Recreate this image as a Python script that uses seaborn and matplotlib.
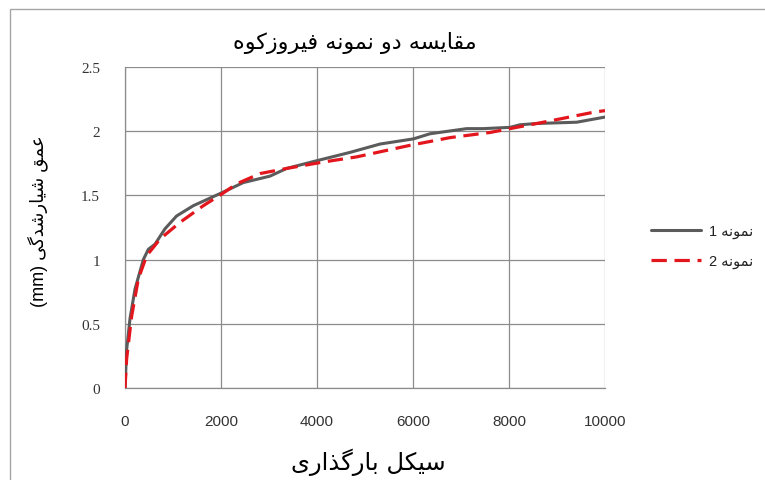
import matplotlib
matplotlib.use("Agg")
import matplotlib.pyplot as plt
import seaborn as sns
import pandas as pd
from matplotlib.patches import Rectangle

# ---- data ---------------------------------------------------------------
cycles_1 = [0, 35, 104, 208, 382, 486, 625, 833, 1076, 1424, 2014, 2465, 3020,
            3368, 3993, 4688, 5313, 6007, 6354, 7118, 7465, 8021, 8229, 8576,
            9410, 10000]
depth_1 = [0, 0.30, 0.54, 0.77, 1.00, 1.08, 1.12, 1.24, 1.34, 1.42, 1.52, 1.60,
           1.65, 1.71, 1.77, 1.835, 1.90, 1.94, 1.98, 2.02, 2.02, 2.03, 2.05,
           2.06, 2.07, 2.11]

cycles_2 = [0, 35, 139, 278, 451, 729, 1146, 1632, 2014, 2326, 2813, 3368, 4132,
            4826, 5938, 6771, 7604, 8021, 8854, 9792, 10000]
depth_2 = [0, 0.23, 0.56, 0.85, 1.03, 1.16, 1.29, 1.42, 1.51, 1.59, 1.67, 1.71,
           1.76, 1.80, 1.89, 1.95, 1.99, 2.02, 2.08, 2.15, 2.16]

x_ticks = [0, 2000, 4000, 6000, 8000, 10000]
y_ticks = [0, 0.5, 1, 1.5, 2, 2.5]
y_tick_labels = ["0", "0.5", "1", "1.5", "2", "2.5"]

title_text = "مقایسه دو نمونه فیروزکوه"
x_label_text = "سیکل بارگذاری"
y_label_text = "عمق شیارشدگی"
y_unit = "(mm)"
series_word = "نمونه"
series_numbers = ["1", "2"]

# ---- minimal Persian shaping (contextual forms + right-to-left order) ----
# letter: (isolated, final, initial, medial); right-joining letters have no
# initial/medial forms.
FORMS = {
    "ا": ("\uFE8D", "\uFE8E", None, None),
    "ب": ("\uFE8F", "\uFE90", "\uFE91", "\uFE92"),
    "د": ("\uFEA9", "\uFEAA", None, None),
    "ذ": ("\uFEAB", "\uFEAC", None, None),
    "ر": ("\uFEAD", "\uFEAE", None, None),
    "ز": ("\uFEAF", "\uFEB0", None, None),
    "س": ("\uFEB1", "\uFEB2", "\uFEB3", "\uFEB4"),
    "ش": ("\uFEB5", "\uFEB6", "\uFEB7", "\uFEB8"),
    "ع": ("\uFEC9", "\uFECA", "\uFECB", "\uFECC"),
    "ف": ("\uFED1", "\uFED2", "\uFED3", "\uFED4"),
    "ق": ("\uFED5", "\uFED6", "\uFED7", "\uFED8"),
    "ل": ("\uFEDD", "\uFEDE", "\uFEDF", "\uFEE0"),
    "م": ("\uFEE1", "\uFEE2", "\uFEE3", "\uFEE4"),
    "ن": ("\uFEE5", "\uFEE6", "\uFEE7", "\uFEE8"),
    "ه": ("\uFEE9", "\uFEEA", "\uFEEB", "\uFEEC"),
    "و": ("\uFEED", "\uFEEE", None, None),
    "ی": ("\uFBFC", "\uFBFD", "\uFBFE", "\uFBFF"),
    "ک": ("\uFB8E", "\uFB8F", "\uFB90", "\uFB91"),
    "گ": ("\uFB92", "\uFB93", "\uFB94", "\uFB95"),
}


def shape(text):
    out = []
    n = len(text)
    for i, ch in enumerate(text):
        if ch not in FORMS:
            out.append(ch)
            continue
        prev = text[i - 1] if i > 0 else ""
        nxt = text[i + 1] if i < n - 1 else ""
        joins_prev = prev in FORMS and FORMS[prev][2] is not None
        joins_next = FORMS[ch][2] is not None and nxt in FORMS
        iso, fin, ini, med = FORMS[ch]
        if joins_prev and joins_next:
            out.append(med)
        elif joins_prev:
            out.append(fin)
        elif joins_next:
            out.append(ini)
        else:
            out.append(iso)
    return "".join(out)[::-1]


# ---- figure ---------------------------------------------------------------
sns.set_theme(style="white")
plt.rcParams["font.family"] = ["Liberation Sans", "DejaVu Sans"]

W, H = 765, 481
fig = plt.figure(figsize=(W / 100, H / 100), dpi=100)
fig.patch.set_facecolor("white")

# chart-area frame
fig.add_artist(Rectangle((10 / W, -0.05), 1.1, 1 - 10 / H + 0.05,
                         transform=fig.transFigure, fill=False,
                         edgecolor="#a6a6a6", linewidth=1.0))

ax = fig.add_axes([125 / W, 1 - 389 / H, (605 - 125) / W, (389 - 68) / H])
ax.set_facecolor("white")

df1 = pd.DataFrame({"cycle": cycles_1, "depth": depth_1})
df2 = pd.DataFrame({"cycle": cycles_2, "depth": depth_2})

label_1 = series_numbers[0] + " " + shape(series_word)
label_2 = series_numbers[1] + " " + shape(series_word)

sns.lineplot(data=df1, x="cycle", y="depth", ax=ax, color="#5b5b5b",
             linewidth=2.2, label=label_1, sort=False, zorder=3)
sns.lineplot(data=df2, x="cycle", y="depth", ax=ax, color="#e3161d",
             linewidth=2.3, linestyle=(0, (4.8, 2.4)), label=label_2,
             sort=False, zorder=4)

ax.set_xlim(0, 10000)
ax.set_ylim(0, 2.5)
ax.set_xticks(x_ticks)
ax.set_xticklabels([str(t) for t in x_ticks])
ax.set_yticks(y_ticks)
ax.set_yticklabels(y_tick_labels, family=["Liberation Serif", "DejaVu Serif"],
                   fontsize=12)

ax.grid(True, color="#8c8c8c", linewidth=0.9)
ax.set_axisbelow(True)
for side in ("top", "right"):
    ax.spines[side].set_visible(False)
for side in ("left", "bottom"):
    ax.spines[side].set_color("#8c8c8c")
    ax.spines[side].set_linewidth(0.9)
ax.tick_params(axis="both", which="major", direction="out", length=6,
               width=0.9, color="#8c8c8c", labelsize=11, labelcolor="#333333")
ax.tick_params(axis="x", pad=13)
ax.tick_params(axis="y", pad=12)

ax.set_xlabel("")
ax.set_ylabel("")

fig.text(355 / W, 1 - 43 / H, shape(title_text), ha="center", va="center",
         fontsize=16, color="black", family=["DejaVu Sans"])
fig.text(368 / W, 1 - 462 / H, shape(x_label_text), ha="center", va="center",
         fontsize=17.5, color="black", family=["DejaVu Sans"])
fig.text(38 / W, 1 - 221 / H, y_unit + " " + shape(y_label_text),
         ha="center", va="center", rotation=90, fontsize=13, color="black",
         family=["Liberation Sans", "DejaVu Sans"])

leg = ax.legend(loc="center left", bbox_to_anchor=(638 / W, 1 - 247 / H),
                bbox_transform=fig.transFigure, frameon=False, fontsize=10.5,
                handlelength=3.4, handletextpad=0.6, labelspacing=1.1)
for t in leg.get_texts():
    t.set_color("#222222")

fig.savefig("out.png", dpi=100, facecolor="white")
